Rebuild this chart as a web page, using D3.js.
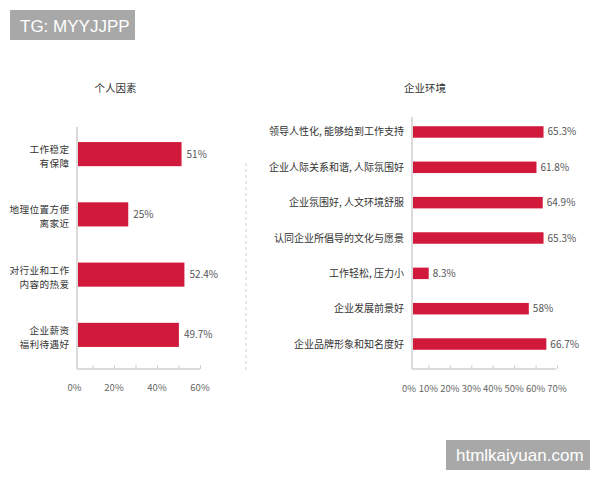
<!DOCTYPE html>
<html><head><meta charset="utf-8">
<script src="https://cdn.jsdelivr.net/npm/d3@7"></script>
<style>
body{margin:0;background:#fff;}
</style></head>
<body><svg id="c" width="600" height="480"></svg>
<script>
const leftTitle = "个人因素";
const leftCategories = [["工作稳定","有保障"],["地理位置方便","离家近"],["对行业和工作","内容的热爱"],["企业薪资","福利待遇好"]];
const leftValues = [51, 25, 52.4, 49.7];
const leftTickLabels = ["0%","20%","40%","60%"];
const leftTickValues = [0,20,40,60];

const rightTitle = "企业环境";
const rightCategories = ["领导人性化, 能够给到工作支持","企业人际关系和谐, 人际氛围好","企业氛围好, 人文环境舒服","认同企业所倡导的文化与愿景","工作轻松, 压力小","企业发展前景好","企业品牌形象和知名度好"];
const rightValues = [65.3, 61.8, 64.9, 65.3, 8.3, 58, 66.7];
const rightTickLabels = ["0%","10%","20%","30%","40%","50%","60%","70%"];
const rightTickValues = [0,10,20,30,40,50,60,70];

const CJK = '"Noto Sans CJK SC","Noto Sans",sans-serif';
const svg = d3.select("#c");
const barColor = "#d11a3b";
const axisColor = "#cfcfcf";

function fmt(v){ return (Math.round(v*10)/10) + "%"; }
function txt(g){ return g.append("text").style("font-family",CJK); }

// ---------- Left chart ----------
{
  const x = d3.scaleLinear().domain([0,60]).range([77,200]);      // bars
  const xa = d3.scaleLinear().domain([0,60]).range([71,200]);     // axis ticks
  const y = d3.scaleBand().domain(d3.range(leftValues.length)).range([124,365]).paddingInner(0.6).paddingOuter(0.3);
  const g = svg.append("g");
  txt(g).attr("x",115.5).attr("y",92).attr("text-anchor","middle").attr("font-size",10.5).attr("fill","#333").text(leftTitle);
  g.append("line").attr("x1",77).attr("x2",77).attr("y1",127).attr("y2",369).attr("stroke",axisColor).attr("stroke-width",1.5);
  const ax = d3.axisBottom(xa).tickValues(d3.range(10,61,10)).tickSize(-4).tickFormat("");
  const axG = g.append("g").attr("transform","translate(0,369)").call(ax);
  axG.select(".domain").attr("stroke",axisColor).attr("stroke-width",1.5).attr("d","M77,0H200");
  axG.selectAll(".tick line").attr("stroke",axisColor);
  g.selectAll(".lt").data(leftTickValues).join("text").attr("class","lt").style("font-family",CJK)
    .attr("x",d=>Math.max(xa(d),74.5)).attr("y",390.5).attr("text-anchor","middle").attr("font-size",9.5).attr("fill","#666")
    .text((d,i)=>leftTickLabels[i]);
  g.selectAll(".bar").data(leftValues).join("rect")
    .attr("x",x(0)+1).attr("y",(d,i)=>y(i)).attr("width",d=>x(d)-x(0)-1).attr("height",y.bandwidth()).attr("fill",barColor);
  g.selectAll(".val").data(leftValues).join("text").style("font-family",CJK)
    .attr("x",d=>x(d)+5).attr("y",(d,i)=>y(i)+y.bandwidth()/2+3.5).attr("font-size",10).attr("fill","#555").text(d=>fmt(d));
  leftCategories.forEach((lines,i)=>{
    const bc = y(i)+y.bandwidth()/2;
    lines.forEach((s,j)=>{
      txt(g).attr("text-anchor","end").attr("font-size",9.6).attr("letter-spacing",0.4).attr("fill","#333")
        .attr("x",69.4).attr("y",bc - 4.5 + j*14 + 3.4).text(s);
    });
  });
}

// separator
svg.append("line").attr("x1",246).attr("x2",246).attr("y1",163).attr("y2",370)
  .attr("stroke","#d0d0d0").attr("stroke-dasharray","3,3");

// ---------- Right chart ----------
{
  const x = d3.scaleLinear().domain([0,70]).range([412,553]);   // bars
  const xa = d3.scaleLinear().domain([0,70]).range([407,557]);  // axis ticks
  const y = d3.scaleBand().domain(d3.range(rightValues.length)).range([114.3,361.7]).paddingInner(0.675).paddingOuter(0.3375);
  const g = svg.append("g");
  txt(g).attr("x",425).attr("y",92).attr("text-anchor","middle").attr("font-size",10.5).attr("fill","#333").text(rightTitle);
  g.append("line").attr("x1",412).attr("x2",412).attr("y1",117).attr("y2",369).attr("stroke",axisColor).attr("stroke-width",1.5);
  const ax = d3.axisBottom(xa).tickValues(rightTickValues.slice(1)).tickSize(-4).tickFormat("");
  const axG = g.append("g").attr("transform","translate(0,369)").call(ax);
  axG.select(".domain").attr("stroke",axisColor).attr("stroke-width",1.5).attr("d","M412,0H556");
  axG.selectAll(".tick line").attr("stroke",axisColor);
  g.selectAll(".rt").data(rightTickValues).join("text").attr("class","rt").style("font-family",CJK)
    .attr("x",d=>Math.max(xa(d),409)).attr("y",391.5).attr("text-anchor","middle").attr("font-size",9.5).attr("fill","#666")
    .text((d,i)=>rightTickLabels[i]);
  g.selectAll(".bar").data(rightValues).join("rect")
    .attr("x",x(0)+1).attr("y",(d,i)=>y(i)).attr("width",d=>x(d)-x(0)-1).attr("height",y.bandwidth()).attr("fill",barColor);
  g.selectAll(".val").data(rightValues).join("text").style("font-family",CJK)
    .attr("x",d=>x(d)+4).attr("y",(d,i)=>y(i)+y.bandwidth()/2+3.5).attr("font-size",10).attr("fill","#555").text(d=>fmt(d));
  g.selectAll(".cat").data(rightCategories).join("text").style("font-family",CJK)
    .attr("x",404).attr("y",(d,i)=>y(i)+y.bandwidth()/2+3.5).attr("text-anchor","end").attr("font-size",10).attr("fill","#333").text(d=>d);
}

// watermarks
const WM = '"Liberation Sans",Arial,sans-serif';
svg.append("rect").attr("x",10).attr("y",10).attr("width",125).attr("height",30).attr("fill","#a8a8a8");
svg.append("text").style("font-family",WM).attr("x",20).attr("y",32).attr("font-size",17).attr("fill","#fff").text("TG: MYYJJPP");
svg.append("rect").attr("x",446).attr("y",440).attr("width",144).attr("height",30).attr("fill","#a8a8a8");
svg.append("text").style("font-family",WM).attr("x",456).attr("y",461).attr("font-size",17).attr("fill","#fff").text("htmlkaiyuan.com");
</script></body></html>
